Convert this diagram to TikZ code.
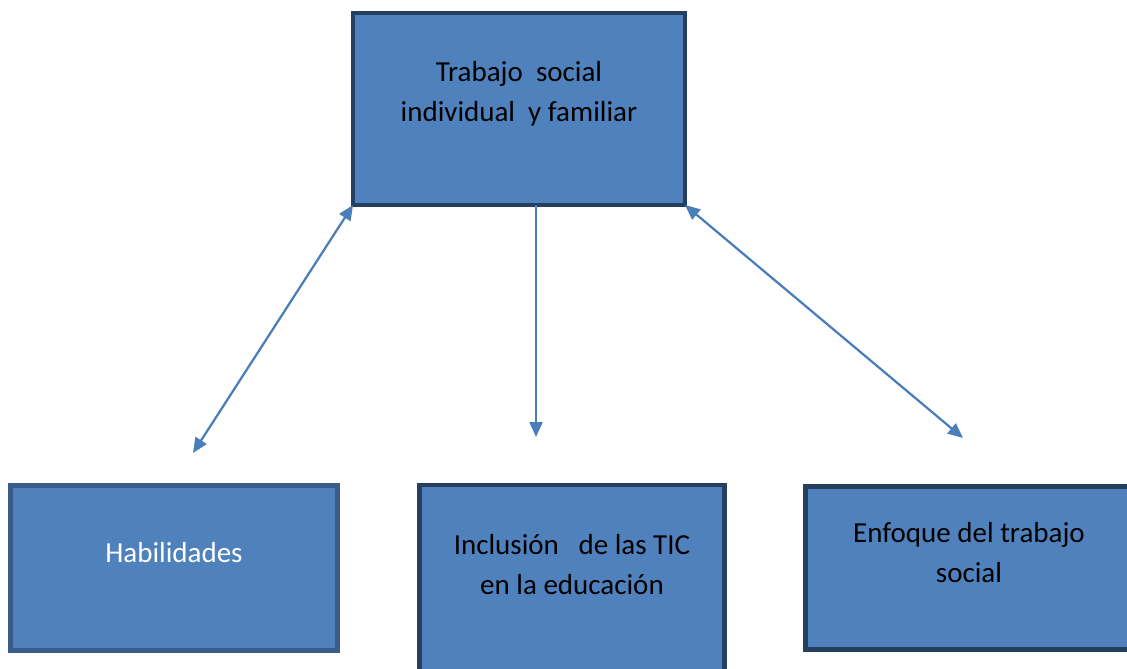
\documentclass[tikz,border=0pt]{standalone}
\usepackage{fontspec}
\setmainfont{Carlito}
\usetikzlibrary{arrows.meta}

\definecolor{boxblue}{HTML}{4F81BD}
\definecolor{boxedge}{HTML}{243F60}
\definecolor{habedge}{HTML}{385D8A}
\definecolor{arrowblue}{HTML}{4A7EBB}

\tikzset{head/.tip={Triangle[length=15pt,width=13pt]}}

\begin{document}
\begin{tikzpicture}[x=1pt,y=-1pt,
  main box/.style={draw=boxedge,fill=boxblue,line width=4.5pt,outer sep=0pt,inner sep=0pt},
  txt/.style={font=\fontsize{29}{40}\selectfont,align=center,yshift=15pt},
  arr/.style={draw=arrowblue,line width=2.25pt,-head},
  arr both/.style={arr,head-head}]

  \useasboundingbox (0,0) rectangle (1127,669);
  \clip (0,0) rectangle (1127,669);

  \node[main box,minimum width=332pt,minimum height=192pt,
        label={[txt]center:{Trabajo\ \ social\\individual\ \ y familiar}}] (top) at (519,109) {};
  \node[main box,draw=habedge,minimum width=327pt,minimum height=165pt,
        label={[txt,text=white]center:Habilidades}] (hab) at (174,568) {};
  \node[main box,minimum width=305pt,minimum height=190pt,
        label={[txt]center:{Inclusión\ \ \ de las TIC\\en la educación}}] (tic) at (572,580) {};
  \node[main box,minimum width=327pt,minimum height=163pt,
        label={[txt]center:{Enfoque del trabajo\\social}}] (enf) at (969,568) {};

  \coordinate (habtip) at (193,453);
  \coordinate (tictip) at (536,437);
  \coordinate (enftip) at (963,438);

  \draw[arr both] (top.south west) -- (habtip);
  \draw[arr] (top.south -| tictip) -- (tictip);
  \draw[arr both] (top.south east) -- (enftip);
\end{tikzpicture}
\end{document}
